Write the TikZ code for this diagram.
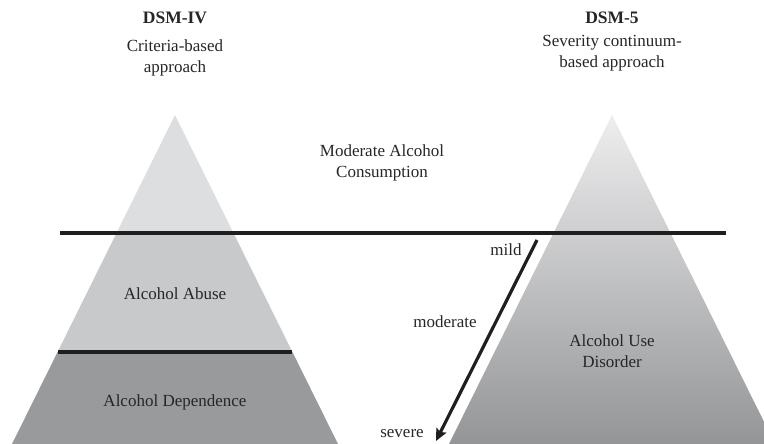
\documentclass[tikz,border=0pt]{standalone}
\usetikzlibrary{arrows.meta}
\usepackage{fontspec}
\setmainfont{Liberation Serif}
\begin{document}
\begin{tikzpicture}[x=1pt,y=-1pt,
  lbl/.style={font=\fontsize{17}{21}\selectfont, text=black!85, align=center, inner sep=0pt},
  ttl/.style={font=\fontsize{17.5}{21}\selectfont\bfseries, text=black!85, inner sep=0pt},
  bar/.style={line width=3.8pt, black!88},
  ]
\useasboundingbox (0,0) rectangle (764,444);
\definecolor{topL}{RGB}{221,222,224}
\definecolor{midL}{RGB}{200,201,203}
\definecolor{botL}{RGB}{153,154,156}
\definecolor{topR}{RGB}{238,238,239}
\definecolor{botR}{RGB}{148,149,151}
\begin{scope}
\clip (0,0) rectangle (764,444);
% left pyramid
\coordinate (LA) at (175,115);
\coordinate (LL) at (12,444);
\coordinate (LR) at (338,444);
\begin{scope}
  \clip (LA) -- (LL) -- (LR) -- cycle;
  \fill[topL] (0,100) rectangle (382,233);
  \fill[midL] (0,233) rectangle (382,352);
  \fill[botL] (0,352) rectangle (382,444);
\end{scope}
% right pyramid
\coordinate (RA) at (612,115);
\coordinate (RL) at (449,444);
\coordinate (RR) at (775,444);
\shade[top color=topR, bottom color=botR] (RA) -- (RL) -- (RR) -- cycle;
\end{scope}
% lines
\coordinate (H1a) at (60,233);
\coordinate (H1b) at (726,233);
\draw[bar] (H1a) -- (H1b);
\coordinate (H2a) at (58,352);
\coordinate (H2b) at (292,352);
\draw[bar] (H2a) -- (H2b);
% arrow
\coordinate (ArS) at (537,240);
\coordinate (ArE) at (436,441);
\draw[line width=3.2pt, black!88, -{Stealth[length=12pt,width=11pt,inset=2pt]}] (ArS) -- (ArE);
% titles
\node[ttl] (dsm4) at (175,18) {DSM-IV};
\node[lbl] (crit) at (175,58) {Criteria-based\\approach};
\node[ttl] (dsm5) at (612,18) {DSM-5};
\node[lbl] (sev) at (612,53) {Severity continuum-\\based approach};
\node[lbl] (mod) at (382,163) {Moderate Alcohol\\Consumption};
\node[lbl] (abuse) at (175,294) {Alcohol Abuse};
\node[lbl] (dep) at (175,402) {Alcohol Dependence};
\node[lbl] (aud) at (612,351) {Alcohol Use\\Disorder};
\node[lbl] (mild) at (506,250) {mild};
\node[lbl] (moder) at (445,322) {moderate};
\node[lbl] (sevr) at (402,434) {severe};
\end{tikzpicture}
\end{document}
